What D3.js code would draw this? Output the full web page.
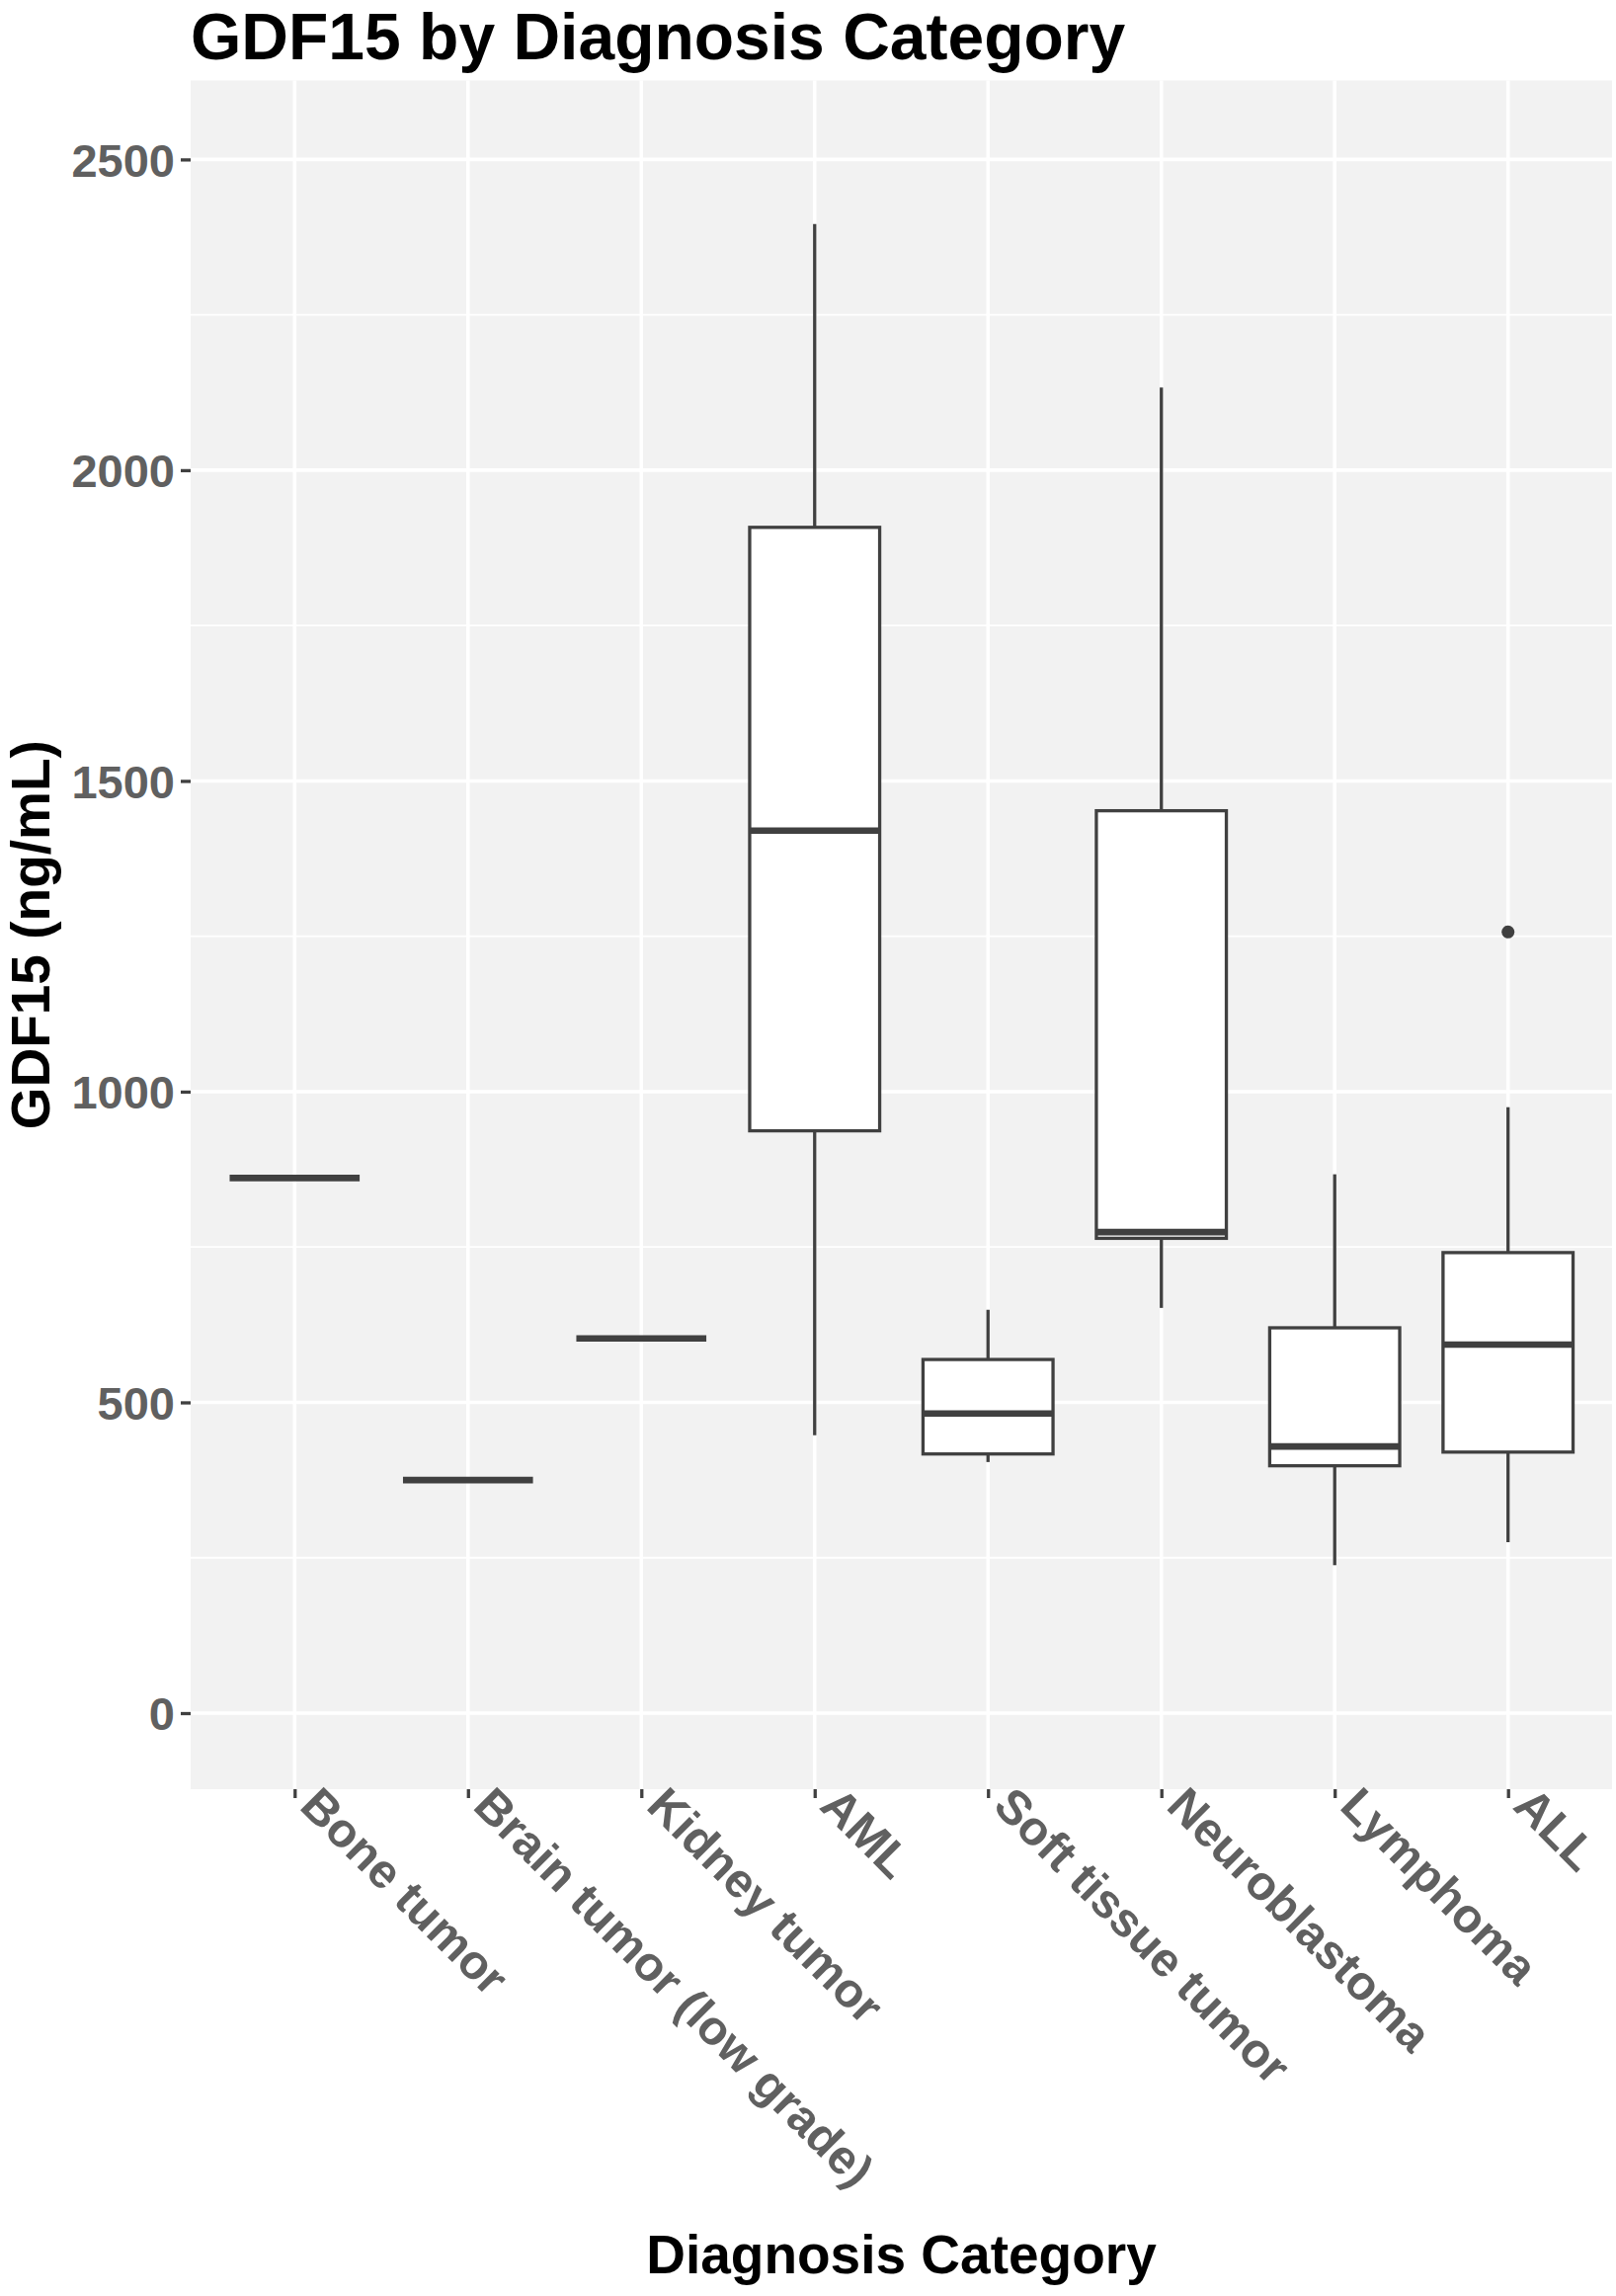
<!DOCTYPE html>
<html>
<head>
<meta charset="utf-8">
<script src="https://cdn.jsdelivr.net/npm/d3@7"></script>
<style>
  html, body { margin: 0; padding: 0; background: #ffffff; }
  svg { display: block; }
  text { font-family: "Liberation Sans", Arial, Helvetica, sans-serif; font-weight: bold; }
</style>
</head>
<body>
<svg id="chart" width="1636" height="2324"></svg>
<script>
// ---- data ----
const categories = ["Bone tumor", "Brain tumor (low grade)", "Kidney tumor", "AML",
                    "Soft tissue tumor", "Neuroblastoma", "Lymphoma", "ALL"];
const lowerWhisker = [861, 375, 603, 447, 404, 652, 238, 275];
const q1Values     = [861, 375, 603, 937, 417, 764, 398, 420];
const medianValues = [861, 375, 603, 1420, 482, 774, 429, 593];
const q3Values     = [861, 375, 603, 1908, 569, 1452, 620, 741];
const upperWhisker = [861, 375, 603, 2396, 649, 2133, 867, 975];
const outlierCategories = ["ALL"];
const outlierValues = [1257];
const yTicks = [0, 500, 1000, 1500, 2000, 2500];
const yMinorTicks = [250, 750, 1250, 1750, 2250];
const yDomain = [-122.4, 2627];

const titleText = "GDF15 by Diagnosis Category";
const xTitleText = "Diagnosis Category";
const yTitleText = "GDF15 (ng/mL)";

// ---- layout ----
const svg = d3.select("#chart");
const W = 1636, H = 2324;
const panel = { left: 193, top: 81.5, right: 1632, bottom: 1811 };

const x = d3.scalePoint().domain(categories)
  .range([panel.left, panel.right]).padding(0.6);
const y = d3.scaleLinear().domain(yDomain).range([panel.bottom, panel.top]);
const boxW = x.step() * 0.75;

const boxes = categories.map((c, i) => ({
  cat: c, lo: lowerWhisker[i], q1: q1Values[i], med: medianValues[i],
  q3: q3Values[i], hi: upperWhisker[i]
}));
const outliers = outlierCategories.map((c, i) => ({ cat: c, v: outlierValues[i] }));

const inkGrey = "#404040";
const tickTextGrey = "#606060";

svg.append("rect").attr("width", W).attr("height", H).attr("fill", "#ffffff");

// panel background
svg.append("rect")
  .attr("x", panel.left).attr("y", panel.top)
  .attr("width", panel.right - panel.left).attr("height", panel.bottom - panel.top)
  .attr("fill", "#f2f2f2");

// minor grid
svg.append("g").selectAll("line").data(yMinorTicks).join("line")
  .attr("x1", panel.left).attr("x2", panel.right)
  .attr("y1", d => y(d)).attr("y2", d => y(d))
  .attr("stroke", "#ffffff").attr("stroke-width", 1.8);

// major grid horizontal
svg.append("g").selectAll("line").data(yTicks).join("line")
  .attr("x1", panel.left).attr("x2", panel.right)
  .attr("y1", d => y(d)).attr("y2", d => y(d))
  .attr("stroke", "#ffffff").attr("stroke-width", 3.6);

// major grid vertical
svg.append("g").selectAll("line").data(categories).join("line")
  .attr("x1", d => x(d)).attr("x2", d => x(d))
  .attr("y1", panel.top).attr("y2", panel.bottom)
  .attr("stroke", "#ffffff").attr("stroke-width", 3.6);

// boxplots
const g = svg.append("g");
const bx = g.selectAll("g.box").data(boxes).join("g").attr("class", "box");

bx.append("line") // upper whisker
  .attr("x1", d => x(d.cat)).attr("x2", d => x(d.cat))
  .attr("y1", d => y(d.hi)).attr("y2", d => y(d.q3))
  .attr("stroke", inkGrey).attr("stroke-width", 3.3);
bx.append("line") // lower whisker
  .attr("x1", d => x(d.cat)).attr("x2", d => x(d.cat))
  .attr("y1", d => y(d.q1)).attr("y2", d => y(d.lo))
  .attr("stroke", inkGrey).attr("stroke-width", 3.3);
bx.append("rect")
  .attr("x", d => x(d.cat) - boxW / 2).attr("width", boxW)
  .attr("y", d => y(d.q3)).attr("height", d => Math.max(0, y(d.q1) - y(d.q3)))
  .attr("fill", "#ffffff").attr("stroke", inkGrey).attr("stroke-width", 3.3);
bx.append("line") // median
  .attr("x1", d => x(d.cat) - boxW / 2).attr("x2", d => x(d.cat) + boxW / 2)
  .attr("y1", d => y(d.med)).attr("y2", d => y(d.med))
  .attr("stroke", inkGrey).attr("stroke-width", 6.6);

g.selectAll("circle").data(outliers).join("circle")
  .attr("cx", d => x(d.cat)).attr("cy", d => y(d.v)).attr("r", 6.5)
  .attr("fill", inkGrey);

// y axis
const yAxis = d3.axisLeft(y).tickValues(yTicks).tickFormat(d3.format("d"))
  .tickSize(10).tickPadding(6);
const yg = svg.append("g").attr("transform", `translate(${panel.left},0)`).call(yAxis);
yg.select(".domain").remove();
yg.selectAll(".tick line").attr("stroke", inkGrey).attr("stroke-width", 3.3);
yg.selectAll(".tick text")
  .attr("fill", tickTextGrey)
  .style("font-family", '"Liberation Sans", Arial, sans-serif')
  .style("font-weight", "bold")
  .style("font-size", "47px")
  .attr("dy", "0.36em");

// x axis
const xAxis = d3.axisBottom(x).tickSize(9).tickPadding(0);
const xg = svg.append("g").attr("transform", `translate(0,${panel.bottom})`).call(xAxis);
xg.select(".domain").remove();
xg.selectAll(".tick line").attr("stroke", inkGrey).attr("stroke-width", 3.3);
xg.selectAll(".tick text")
  .attr("fill", tickTextGrey)
  .style("font-family", '"Liberation Sans", Arial, sans-serif')
  .style("font-weight", "bold")
  .style("font-size", "48.5px")
  .attr("text-anchor", "start")
  .attr("dy", null)
  .attr("y", 0)
  .attr("transform", "translate(3,19) rotate(45)");

// titles
svg.append("text")
  .attr("x", 193).attr("y", 60)
  .attr("font-size", 66).attr("fill", "#000000")
  .text(titleText);

svg.append("text")
  .attr("x", (panel.left + panel.right) / 2).attr("y", 2301)
  .attr("text-anchor", "middle")
  .attr("font-size", 55).attr("fill", "#000000")
  .text(xTitleText);

svg.append("text")
  .attr("transform", `translate(50,${(panel.top + panel.bottom) / 2}) rotate(-90)`)
  .attr("text-anchor", "middle")
  .attr("font-size", 55).attr("fill", "#000000")
  .text(yTitleText);
</script>
</body>
</html>
